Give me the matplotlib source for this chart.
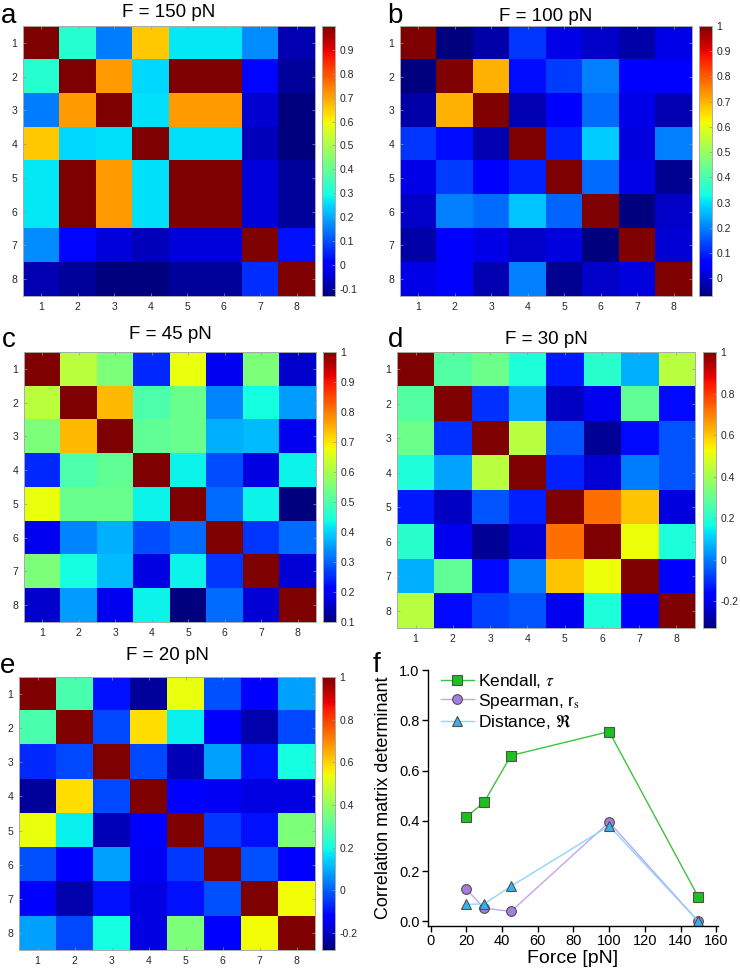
import numpy as np
import matplotlib
matplotlib.use('Agg')
import matplotlib.pyplot as plt

plt.rcParams['font.family'] = ['Liberation Sans', 'DejaVu Sans']
plt.rcParams['axes.unicode_minus'] = False
plt.rcParams['mathtext.fontset'] = 'stix'

# correlation matrices (rows 1..8)
mat_150 = [
    [1.00, 0.32, 0.15, 0.66, 0.27, 0.27, 0.17, -0.08],
    [0.32, 1.00, 0.71, 0.25, 1.00, 1.00, 0.02, -0.10],
    [0.15, 0.71, 1.00, 0.26, 0.71, 0.71, -0.05, -0.13],
    [0.66, 0.25, 0.26, 1.00, 0.26, 0.26, -0.07, -0.13],
    [0.27, 1.00, 0.71, 0.26, 1.00, 1.00, -0.04, -0.10],
    [0.27, 1.00, 0.71, 0.26, 1.00, 1.00, -0.04, -0.10],
    [0.17, 0.02, -0.04, -0.07, -0.04, -0.04, 1.00, 0.03],
    [-0.08, -0.10, -0.13, -0.13, -0.10, -0.10, 0.06, 1.00],
]
mat_100 = [
    [1.00, -0.07, -0.03, 0.12, 0.03, 0.00, -0.03, 0.03],
    [-0.07, 1.00, 0.70, 0.08, 0.13, 0.20, 0.05, 0.05],
    [-0.03, 0.70, 1.00, -0.02, 0.05, 0.18, 0.03, -0.02],
    [0.12, 0.08, -0.02, 1.00, 0.10, 0.28, 0.02, 0.20],
    [0.03, 0.13, 0.05, 0.10, 1.00, 0.18, 0.03, -0.05],
    [0.00, 0.20, 0.18, 0.27, 0.17, 1.00, -0.07, 0.00],
    [-0.03, 0.05, 0.03, 0.00, 0.02, -0.07, 1.00, 0.01],
    [0.03, 0.05, -0.02, 0.20, -0.05, 0.00, 0.02, 1.00],
]
mat_45 = [
    [1.00, 0.62, 0.55, 0.25, 0.67, 0.19, 0.55, 0.16],
    [0.62, 1.00, 0.74, 0.50, 0.53, 0.33, 0.44, 0.35],
    [0.55, 0.74, 1.00, 0.52, 0.53, 0.37, 0.38, 0.19],
    [0.25, 0.50, 0.52, 1.00, 0.43, 0.28, 0.18, 0.43],
    [0.67, 0.53, 0.53, 0.43, 1.00, 0.31, 0.43, 0.10],
    [0.19, 0.33, 0.37, 0.28, 0.31, 1.00, 0.26, 0.31],
    [0.55, 0.44, 0.38, 0.18, 0.43, 0.26, 1.00, 0.17],
    [0.16, 0.35, 0.19, 0.43, 0.10, 0.31, 0.17, 1.00],
]
mat_30 = [
    [1.00, 0.27, 0.31, 0.18, -0.13, 0.20, 0.07, 0.43],
    [0.27, 1.00, -0.10, 0.05, -0.25, -0.20, 0.29, -0.15],
    [0.31, -0.10, 1.00, 0.43, -0.05, -0.30, -0.15, -0.05],
    [0.18, 0.05, 0.43, 1.00, -0.12, -0.23, 0.00, -0.05],
    [-0.13, -0.25, -0.05, -0.12, 1.00, 0.72, 0.60, -0.22],
    [0.20, -0.20, -0.30, -0.23, 0.72, 1.00, 0.52, 0.18],
    [0.07, 0.29, -0.15, 0.00, 0.60, 0.52, 1.00, -0.17],
    [0.43, -0.15, -0.08, -0.05, -0.20, 0.18, -0.17, 1.00],
]
mat_20 = [
    [1.00, 0.28, -0.10, -0.25, 0.53, -0.02, -0.13, 0.08],
    [0.28, 1.00, -0.03, 0.58, 0.18, -0.13, -0.23, -0.03],
    [-0.07, -0.03, 1.00, -0.03, -0.22, 0.08, -0.10, 0.20],
    [-0.25, 0.58, -0.03, 1.00, -0.13, -0.15, -0.17, -0.17],
    [0.53, 0.18, -0.22, -0.13, 1.00, -0.05, -0.10, 0.36],
    [-0.02, -0.13, 0.08, -0.15, -0.05, 1.00, -0.02, -0.13],
    [-0.13, -0.23, -0.10, -0.17, -0.10, -0.02, 1.00, 0.54],
    [0.08, -0.03, 0.20, -0.17, 0.36, -0.13, 0.54, 1.00],
]

# panel f
force = [20, 30, 45, 100, 150]
kendall = [0.415, 0.475, 0.66, 0.755, 0.097]
spearman = [0.128, 0.053, 0.04, 0.395, 0.0]
distance = [0.068, 0.07, 0.14, 0.38, 0.0]

W, H = 740, 972
fig = plt.figure(figsize=(W / 100, H / 100), dpi=100)


def px_axes(x0, y0, x1, y1):
    return fig.add_axes([x0 / W, 1 - y1 / H, (x1 - x0) / W, (y1 - y0) / H])


def heatmap(box, cbox, M, vmin, vmax, cticks, title, tpos, letter, lpos):
    ax = px_axes(*box)
    im = ax.imshow(np.array(M), cmap='jet', vmin=vmin, vmax=vmax,
                   aspect='auto', interpolation='nearest')
    ax.set_xticks(range(8))
    ax.set_yticks(range(8))
    ax.set_xticklabels([str(i + 1) for i in range(8)])
    ax.set_yticklabels([str(i + 1) for i in range(8)])
    ax.tick_params(direction='in', length=2.5, width=0.5, labelsize=7.5,
                   colors='#999999', labelcolor='#262626', pad=4,
                   top=True, right=True)
    for s in ax.spines.values():
        s.set_color('#aaaaaa')
        s.set_linewidth(0.7)
    cax = px_axes(*cbox)
    cb = fig.colorbar(im, cax=cax)
    cb.set_ticks(cticks)
    cb.set_ticklabels(['%g' % round(t, 2) for t in cticks])
    cax.tick_params(direction='in', length=2.5, width=0.5, labelsize=7.5,
                    colors='#999999', labelcolor='#262626', pad=3)
    cb.outline.set_edgecolor('#aaaaaa')
    cb.outline.set_linewidth(0.7)
    fig.text(tpos[0] / W, 1 - tpos[1] / H, title, ha='center',
             va='baseline', fontsize=13.5)
    fig.text(lpos[0] / W, 1 - lpos[1] / H, letter, ha='left',
             va='baseline', fontsize=20)


heatmap((23, 26, 315, 296), (322, 26, 335, 296), mat_150, -0.13, 1.0,
        np.arange(-0.1, 0.95, 0.1), 'F = 150 pN', (169, 17), 'a', (1, 23))
heatmap((400, 26, 692, 296), (699, 26, 712, 296), mat_100, -0.07, 1.0,
        np.arange(0.0, 1.05, 0.1), 'F = 100 pN', (546, 21), 'b', (387, 23))
heatmap((24, 352, 316, 622), (323, 352, 336, 622), mat_45, 0.1, 1.0,
        np.arange(0.1, 1.05, 0.1), 'F = 45 pN', (170, 339), 'c', (2, 347))
heatmap((397, 352, 695, 628), (703, 352, 716, 628), mat_30, -0.33, 1.0,
        np.arange(-0.2, 1.05, 0.2), 'F = 30 pN', (546, 344), 'd', (388, 347))
heatmap((19, 677, 315, 950), (322, 677, 335, 950), mat_20, -0.28, 1.0,
        np.arange(-0.2, 1.05, 0.2), 'F = 20 pN', (167, 660), 'e', (0, 673))

# panel f
ax = px_axes(428, 670, 718, 926)
ax.plot(force, kendall, '-', color='#3cc43c', lw=1.0, marker='s', ms=7,
        mfc='#1fbf1f', mec='#505050', mew=0.8, label=r'Kendall, $\tau$')
ax.plot(force, spearman, '-', color='#c4a4f0', lw=1.0, marker='o', ms=7,
        mfc='#a47de0', mec='#505050', mew=0.8,
        label=r'Spearman, r$_\mathrm{s}$')
ax.plot(force, distance, '-', color='#8cd6ff', lw=1.0, marker='^', ms=7.5,
        mfc='#33b4ee', mec='#505050', mew=0.8, label=r'Distance, $\Re$')
ax.set_xlim(-1.5, 161)
ax.set_ylim(-0.018, 1.0)
ax.set_xticks(np.arange(0, 161, 20))
ax.set_yticks(np.arange(0, 1.01, 0.2))
ax.set_yticklabels(['%.1f' % v for v in np.arange(0, 1.01, 0.2)])
ax.spines['top'].set_visible(False)
ax.spines['right'].set_visible(False)
for s in ('left', 'bottom'):
    ax.spines[s].set_linewidth(1.0)
ax.tick_params(direction='out', length=4, width=1.0, labelsize=10.5, pad=2)
ax.set_xlabel('Force [pN]', fontsize=14, labelpad=1)
ax.set_ylabel('Correlation matrix determinant', fontsize=13, labelpad=5)
ax.legend(loc='upper left', frameon=False, fontsize=12.5, handlelength=1.9,
          labelspacing=0.1, borderaxespad=0.0, handletextpad=0.25,
          bbox_to_anchor=(0.02, 1.02))
fig.text(373 / W, 1 - 672 / H, 'f', ha='left', va='baseline', fontsize=20)

fig.savefig('out.png', dpi=100)
